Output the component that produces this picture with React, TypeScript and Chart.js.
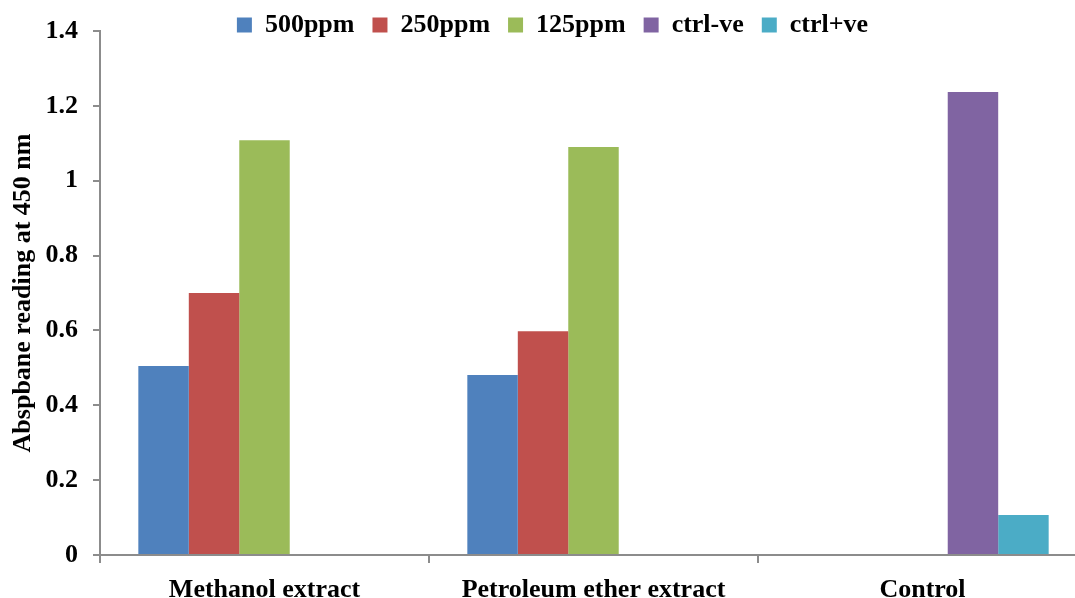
import React, { useEffect, useRef } from "react";
import { Chart, registerables } from "chart.js";

Chart.register(...registerables);

const categories = ["Methanol extract", "Petroleum ether extract", "Control"];
const seriesNames = ["500ppm", "250ppm", "125ppm", "ctrl-ve", "ctrl+ve"];
const s500 = [0.505, 0.481, null];
const s250 = [0.7, 0.598, null];
const s125 = [1.108, 1.09, null];
const ctrlNeg = [null, null, 1.237];
const ctrlPos = [null, null, 0.107];
const seriesColors = ["#4f81bd", "#c0504d", "#9bbb59", "#8064a2", "#4bacc6"];
const yTickLabels = ["0", "0.2", "0.4", "0.6", "0.8", "1", "1.2", "1.4"];
const yTitle = "Abspbane reading at 450 nm";

const FONT = "'Liberation Serif', 'Times New Roman', serif";
const AXIS = "#8c8c8c";

export default function App() {
  const ref = useRef<HTMLCanvasElement | null>(null);
  useEffect(() => {
    if (!ref.current) return;
    const values = [s500, s250, s125, ctrlNeg, ctrlPos];
    const shiftPlugin = {
      id: "legendShift",
      afterLayout(chart: any) {
        const lg = chart.legend;
        if (lg) {
          lg.top -= 6;
          lg.bottom += 20;
          lg.height = lg.bottom - lg.top;
          lg.left += 9;
          lg.right += 9;
        }
      },
    };
    const chart = new Chart(ref.current, {
      type: "bar",
      data: {
        labels: categories,
        datasets: seriesNames.map((n, i) => ({
          label: n,
          data: values[i] as any,
          backgroundColor: seriesColors[i],
          borderWidth: 0,
          categoryPercentage: 0.767,
          barPercentage: 1,
        })),
      },
      plugins: [shiftPlugin],
      options: {
        animation: false,
        responsive: true,
        maintainAspectRatio: false,
        layout: { padding: 0 },
        plugins: {
          tooltip: { enabled: false },
          legend: {
            position: "top",
            maxHeight: 31,
            labels: {
              boxWidth: 15,
              boxHeight: 15,
              padding: 18,
              color: "#000",
              font: { family: FONT, size: 26, weight: "bold" },
            },
          },
        },
        scales: {
          x: {
            offset: true,
            afterFit(scale: any) {
              scale.height = 43;
            },
            border: { display: true, color: AXIS, width: 2 },
            grid: {
              offset: true,
              drawOnChartArea: false,
              drawTicks: true,
              tickLength: 8,
              color: AXIS,
              lineWidth: 2,
            },
            ticks: {
              color: "#000",
              padding: 12,
              maxRotation: 0,
              font: { family: FONT, size: 26, weight: "bold" },
            },
          },
          y: {
            min: 0,
            max: 1.4,
            afterFit(scale: any) {
              scale.width = 100;
            },
            border: { display: true, color: AXIS, width: 2 },
            grid: {
              drawOnChartArea: false,
              drawTicks: true,
              tickLength: 7,
              color: AXIS,
              lineWidth: 2,
            },
            ticks: {
              stepSize: 0.2,
              color: "#000",
              padding: 15,
              font: { family: FONT, size: 26, weight: "bold" },
              callback: (_v: any, i: number) => yTickLabels[i],
            },
            title: {
              display: true,
              text: yTitle,
              color: "#000",
              padding: { top: 8, bottom: 0 },
              font: { family: FONT, size: 26, weight: "bold" },
            },
          },
        },
      },
    });
    return () => chart.destroy();
  }, []);
  return (
    <div
      style={{
        position: "fixed",
        left: 0,
        top: 0,
        width: 1075,
        height: 598,
        overflow: "hidden",
        background: "#fff",
      }}
    >
      <div style={{ position: "absolute", left: 0, top: 0, width: 1087, height: 598 }}>
        <canvas ref={ref} />
      </div>
    </div>
  );
}
